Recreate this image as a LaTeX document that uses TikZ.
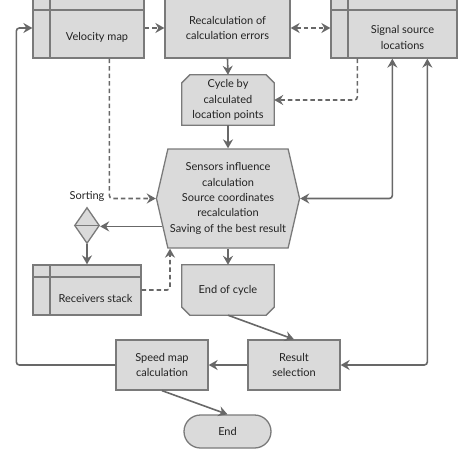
\documentclass[tikz,border=0pt]{standalone}
\usepackage{xcolor}
\usepackage{fontspec}
\setmainfont{Lato}
\usetikzlibrary{arrows.meta,calc,shapes.geometric,shapes.misc,shapes.symbols,positioning,backgrounds}

\definecolor{boxfill}{HTML}{DADADA}
\definecolor{boxedge}{HTML}{7A7A7A}
\definecolor{linkgray}{HTML}{686868}
\definecolor{textgray}{HTML}{222222}

\tikzset{
    >={Stealth[length=9pt, width=10pt, inset=3pt]},
    box/.style={draw=boxedge, fill=boxfill, line width=1.3pt, text=textgray,
        align=center, inner sep=2pt},
    store/.style={box, path picture={
        \draw[boxedge, line width=1.3pt]
            ([xshift=17pt]path picture bounding box.north west) --
            ([xshift=17pt]path picture bounding box.south west);
        \draw[boxedge, line width=1.3pt]
            ([yshift=-12pt]path picture bounding box.north west) --
            ([yshift=-12pt]path picture bounding box.north east);}},
    loopbox/.style={text=textgray, align=center, inner sep=0pt,
        minimum width=92pt, minimum height=50pt},
    txt/.style={text=textgray, align=center, inner sep=1pt},
    link/.style={draw=linkgray, line width=1.6pt, rounded corners=3pt, ->},
    twolink/.style={link, <->},
    dlink/.style={link, dash pattern=on 4.5pt off 3pt},
}

\begin{document}
\begin{tikzpicture}[x=1pt, y=-1pt, font=\fontsize{11}{15.3}\selectfont]

    \useasboundingbox (0,0) rectangle (474,455);

    % Top row.
    \node[store, minimum width=111pt, minimum height=60pt] (vel) at (88.5,28) {};
    \node[txt] at (97,37) {Velocity map};
    \node[box, minimum width=125pt, minimum height=60pt] (rec) at (227.5,28)
        {Recalculation of\\calculation errors};
    \node[store, minimum width=126pt, minimum height=60pt] (sig) at (394,28) {};
    \node[txt] at (402.5,37.5) {Signal source\\locations};

    % Cycle.
    \node[loopbox] (cyc) at (228,100) {Cycle by\\calculated\\location points};
    \node[box, signal, signal to=west and east, signal pointer angle=154,
        minimum width=141pt, minimum height=99pt] (hex) at (228,198.5)
        {Sensors influence\\calculation\\Source coordinates\\recalculation\\Saving of the best result};
    \node[loopbox] (eoc) at (228,290) {End of cycle};

    \begin{scope}[on background layer]
        \draw[box] (cyc.south west) -- ([yshift=-8pt]cyc.north west) -- ([xshift=8pt]cyc.north west)
            -- ([xshift=-8pt]cyc.north east) -- ([yshift=-8pt]cyc.north east) -- (cyc.south east) -- cycle;
        \draw[box] (eoc.north west) -- ([yshift=8pt]eoc.south west) -- ([xshift=8pt]eoc.south west)
            -- ([xshift=-8pt]eoc.south east) -- ([yshift=8pt]eoc.south east) -- (eoc.north east) -- cycle;
    \end{scope}

    % Sorting and stack.
    \node[box, diamond, aspect=0.7, minimum width=25pt, minimum height=36pt, inner sep=0pt]
        (dia) at (87,225.5) {};
    \draw[boxedge, line width=1.3pt] (dia.west) -- (dia.east);
    \node[txt, above=4pt of dia] {Sorting};
    \node[store, minimum width=108pt, minimum height=50pt] (rcv) at (87,290) {};
    \node[txt] at (95.5,298.5) {Receivers stack};

    % Bottom row.
    \node[box, minimum width=92pt, minimum height=50pt] (res) at (294,365) {Result\\selection};
    \node[box, minimum width=92pt, minimum height=50pt] (spd) at (162,365) {Speed map\\calculation};
    \node[box, rounded rectangle, minimum width=91pt, minimum height=33pt] (end) at (227.5,431.5) {End};

    % Links.
    \draw[dlink] (vel.east) -- (rec.west);
    \draw[dlink, <->] (rec.east) -- (sig.west);
    \draw[link] (rec.south) -- (cyc.north);
    \draw[dlink] ($(sig.south west)+(27,0)$) |- (cyc.east);
    \draw[link] (cyc.south) -- (hex.north);
    \draw[twolink] (hex.east) -| ($(sig.south west)+(62,0)$);
    \draw[twolink] (res.east) -| ($(sig.south west)+(97,0)$);
    \draw[dlink] ($(vel.south west)+(77,0)$) |- (hex.west);
    \draw[link] (hex.203) -- (hex.203 -| dia.east);
    \draw[link] (dia.south) -- (rcv.north);
    \draw[dlink] (rcv.east) -| ($(hex.south)+(-58,0)$);
    \draw[link] (hex.south) -- (eoc.north);
    \draw[link] (eoc.south) -- (res.north);
    \draw[link] (res.west) -- (spd.east);
    \draw[link] (spd.west) -| ([xshift=-16pt]vel.west) -- (vel.west);
    \draw[link] (spd.south) -- (end.north);

\end{tikzpicture}
\end{document}
